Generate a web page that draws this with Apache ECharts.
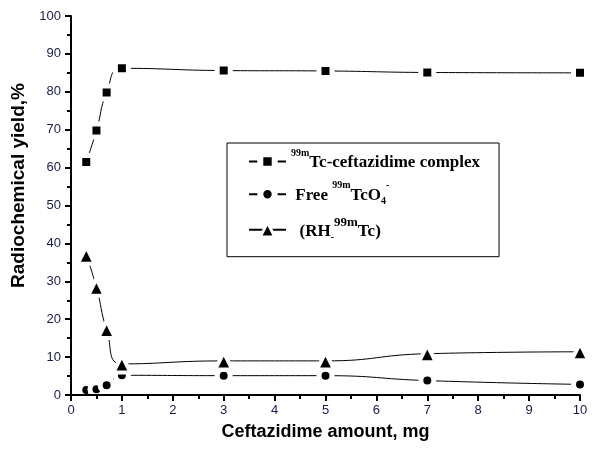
<!DOCTYPE html>
<html>
<head>
<meta charset="utf-8">
<script src="https://cdn.jsdelivr.net/npm/echarts@6/dist/echarts.min.js"></script>
<style>
html, body { margin: 0; padding: 0; background: #fff; }
#main { width: 607px; height: 450px; }
</style>
</head>
<body>
<div id="main"></div>
<script>
// ceftazidime amount, mg
const amounts = [0.3, 0.5, 0.7, 1, 3, 5, 7, 10]
// radiochemical yield, %
const complexYield = [61.5, 69.8, 79.8, 86.2, 85.6, 85.5, 85.1, 85.0]
const freeYield = [1.3, 1.5, 2.6, 5.2, 5.1, 5.1, 3.8, 2.8]
const rhYield = [36.9, 28.4, 17.3, 8.2, 9.0, 9.0, 10.9, 11.4]

const legendText = {
  complex: '{sup|99m}{b|Tc-ceftazidime complex}',
  free: '{b| Free }{sup|99m}{b|TcO}{sub|4}{sup|-}',
  rh: '{b|  (RH}{sub|-}{sup2|99m}{b|Tc)}'
}

const tickColor = '#1a1a4e'
const serif = { fontFamily: 'Liberation Serif', fontWeight: 'bold', color: '#000', verticalAlign: 'bottom' }

function makeSeries(name, values, symbol, size, border) {
  return {
    name: name,
    type: 'line',
    smooth: true,
    data: amounts.map((x, i) => [x, values[i]]),
    symbol: symbol,
    symbolSize: size,
    lineStyle: { color: '#000', width: 1 },
    itemStyle: { color: '#000', borderColor: '#fff', borderWidth: border }
  }
}

const chart = echarts.init(document.getElementById('main'))

const option = {
  animation: false,
  backgroundColor: '#fff',
  grid: { left: 71, right: 27, top: 16, bottom: 55 },
  legend: {
    orient: 'vertical',
    left: 227,
    top: 143,
    padding: [5, 19, 14, 21],
    itemGap: 9,
    itemWidth: 37,
    itemHeight: 18,
    borderColor: '#000',
    borderWidth: 1,
    borderRadius: 0,
    itemStyle: { borderColor: '#fff', borderWidth: 6 },
    formatter: name => legendText[name],
    textStyle: {
      rich: {
        b: Object.assign({ fontSize: 17, padding: [0, 0, 4, 0] }, serif),
        sup: Object.assign({ fontSize: 10, padding: [0, 0, 17, 0] }, serif),
        sup2: Object.assign({ fontSize: 13, padding: [0, 0, 15, 0] }, serif),
        sub: Object.assign({ fontSize: 10, padding: [0, 0, 1, 0] }, serif)
      }
    },
    data: [
      { name: 'complex' },
      { name: 'free' },
      { name: 'rh', itemStyle: { borderColor: '#fff', borderWidth: 3 } }
    ]
  },
  xAxis: {
    type: 'value',
    min: 0,
    max: 10,
    interval: 1,
    z: 5,
    name: 'Ceftazidime amount, mg',
    nameLocation: 'middle',
    nameGap: 28,
    nameTextStyle: { fontFamily: 'Liberation Sans', fontWeight: 'bold', fontSize: 18, color: '#000' },
    axisLine: { lineStyle: { color: '#000', width: 2 } },
    axisTick: { inside: false, length: 6, lineStyle: { color: '#000', width: 2 } },
    minorTick: { show: true, splitNumber: 2, length: 4, lineStyle: { color: '#000', width: 2 } },
    axisLabel: { margin: 9, fontFamily: 'Liberation Sans', fontSize: 13, color: tickColor },
    splitLine: { show: false }
  },
  yAxis: {
    type: 'value',
    min: 0,
    max: 100,
    interval: 10,
    z: 5,
    name: 'Radiochemical yield,%',
    nameLocation: 'middle',
    nameGap: 38,
    nameTextStyle: { fontFamily: 'Liberation Sans', fontWeight: 'bold', fontSize: 19, color: '#000', padding: [0, 0, 0, 40] },
    axisLine: { show: true, lineStyle: { color: '#000', width: 2 } },
    axisTick: { show: true, inside: false, length: 6, lineStyle: { color: '#000', width: 2 } },
    minorTick: { show: true, splitNumber: 2, length: 4, lineStyle: { color: '#000', width: 2 } },
    axisLabel: { margin: 10, fontFamily: 'Liberation Sans', fontSize: 13, color: tickColor },
    splitLine: { show: false }
  },
  series: [
    makeSeries('complex', complexYield, 'rect', 13, 5),
    makeSeries('free', freeYield, 'circle', 13, 5),
    makeSeries('rh', rhYield, 'triangle', 17, 4)
  ]
}

chart.setOption(option)
</script>
</body>
</html>
